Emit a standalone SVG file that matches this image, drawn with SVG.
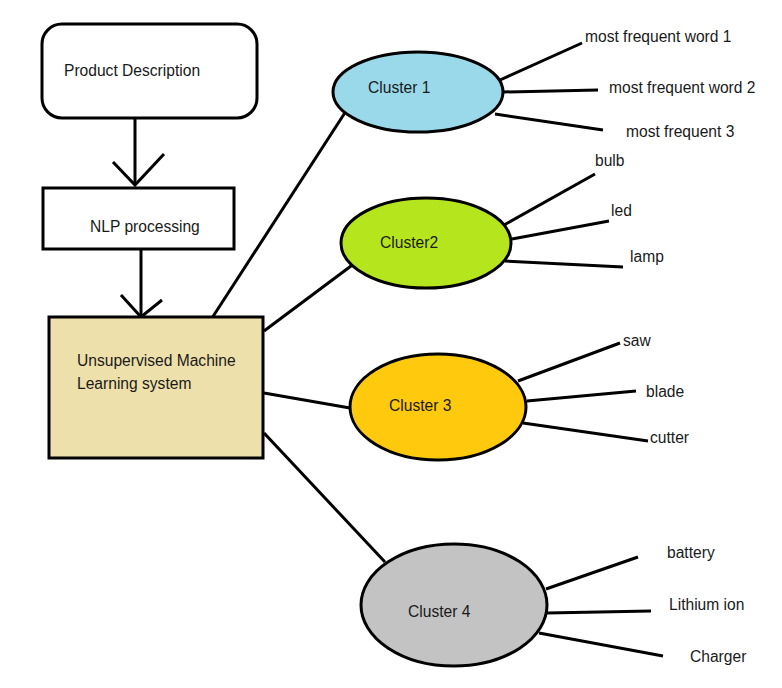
<svg xmlns="http://www.w3.org/2000/svg" width="782" height="688" viewBox="0 0 782 688">
<style>
.n{stroke:#000;stroke-width:3}
.c line,.c polyline{stroke:#000;stroke-width:3;fill:none}
text{font-family:"Liberation Sans",Arial,sans-serif;font-size:15.6px;fill:#1a1a1a}
</style>
<rect width="782" height="688" fill="#fff"/>
<g class="c" id="connectors">
<line x1="135" y1="118" x2="135" y2="185"/>
<polyline points="113,162 135,185 164,154"/>
<line x1="141" y1="249" x2="141" y2="317"/>
<polyline points="121,295 141,317 162,300"/>
<line x1="212" y1="318" x2="348" y2="108"/>
<line x1="264" y1="331" x2="355" y2="263"/>
<line x1="264" y1="393" x2="350" y2="408"/>
<line x1="264" y1="433" x2="385" y2="562"/>
<line x1="500" y1="80" x2="582" y2="43"/>
<line x1="503" y1="92" x2="598" y2="90"/>
<line x1="495" y1="114" x2="603" y2="130"/>
<line x1="504" y1="225" x2="595" y2="174"/>
<line x1="512" y1="239" x2="609" y2="221"/>
<line x1="505" y1="261" x2="623" y2="267"/>
<line x1="518" y1="381" x2="620" y2="343"/>
<line x1="527" y1="401" x2="636" y2="391"/>
<line x1="523" y1="423" x2="648" y2="441"/>
<line x1="546" y1="589" x2="638" y2="557"/>
<line x1="547" y1="613" x2="651" y2="611"/>
<line x1="539" y1="633" x2="663" y2="656"/>
</g>
<g id="product-description">
<rect class="n" x="42" y="24" width="215" height="94" rx="20" fill="#fff"/>
<text x="64" y="76">Product Description</text>
</g>
<g id="nlp-processing">
<rect class="n" x="43" y="188" width="191" height="61" fill="#fff"/>
<text x="90" y="232">NLP processing</text>
</g>
<g id="uml-system">
<rect class="n" x="49" y="317" width="214" height="141" fill="#EEE0AA"/>
<text x="77" y="366">Unsupervised Machine</text>
<text x="77" y="389">Learning system</text>
</g>
<g id="cluster1">
<ellipse class="n" cx="418" cy="92" rx="85" ry="40" fill="#99D9EA"/>
<text x="368" y="93">Cluster 1</text>
</g>
<g id="cluster2">
<ellipse class="n" cx="426" cy="243" rx="85" ry="45" fill="#B5E61D"/>
<text x="380" y="248">Cluster2</text>
</g>
<g id="cluster3">
<ellipse class="n" cx="438" cy="407" rx="88" ry="53" fill="#FFC90E"/>
<text x="389" y="411">Cluster 3</text>
</g>
<g id="cluster4">
<ellipse class="n" cx="454" cy="605" rx="93" ry="61" fill="#C3C3C3"/>
<text x="408" y="617">Cluster 4</text>
</g>
<g id="words">
<text x="585" y="42">most frequent word 1</text>
<text x="609" y="93">most frequent word 2</text>
<text x="626" y="137">most frequent 3</text>
<text x="595" y="166">bulb</text>
<text x="611" y="216">led</text>
<text x="630" y="262">lamp</text>
<text x="623" y="346">saw</text>
<text x="646" y="397">blade</text>
<text x="650" y="443">cutter</text>
<text x="667" y="558">battery</text>
<text x="669" y="610">Lithium ion</text>
<text x="690" y="662">Charger</text>
</g>
</svg>
